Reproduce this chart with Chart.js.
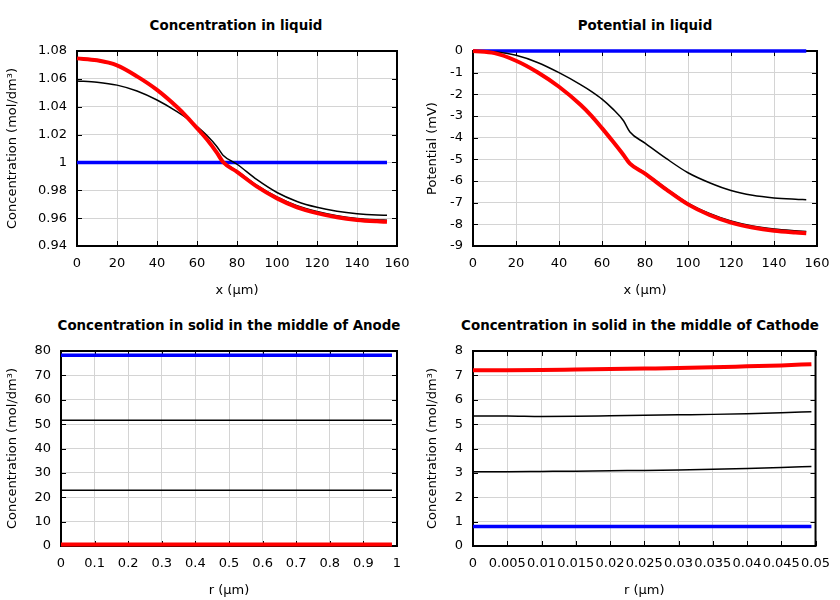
<!DOCTYPE html>
<html>
<head>
<meta charset="utf-8">
<script src="https://cdn.jsdelivr.net/npm/chart.js@4/dist/chart.umd.min.js"></script>
<style>
  body { margin: 0; background: #fff; }
  #wrap { position: relative; width: 840px; height: 600px; font-family: "DejaVu Sans", sans-serif; }
  canvas { position: absolute; }
  .ttl { position: absolute; font: bold 13.4px "DejaVu Sans", sans-serif; white-space: nowrap; transform: translateX(-50%); color: #000; }
</style>
</head>
<body>
<div id="wrap">
  <div class="ttl" style="left:236px; top:18px">Concentration in liquid</div>
  <div class="ttl" style="left:645px; top:18px">Potential in liquid</div>
  <div class="ttl" style="left:229px; top:318px">Concentration in solid in the middle of Anode</div>
  <div class="ttl" style="left:640px; top:318px">Concentration in solid in the middle of Cathode</div>
  <canvas id="c1" width="420" height="300" style="left:0;top:0"></canvas>
  <canvas id="c2" width="420" height="300" style="left:420px;top:0"></canvas>
  <canvas id="c3" width="420" height="300" style="left:0;top:300px"></canvas>
  <canvas id="c4" width="420" height="300" style="left:420px;top:300px"></canvas>
</div>
<script>
// positions along the cell (µm)
const xLiquid = [0, 10, 20, 30, 40, 50, 55, 60, 65, 70, 73, 80, 90, 100, 110, 120, 130, 140, 150, 155];

// liquid concentration (mol/dm3)
const concLiq0 = [1, 1, 1, 1, 1, 1, 1, 1, 1, 1, 1, 1, 1, 1, 1, 1, 1, 1, 1, 1];
const concLiq1 = [1.0585, 1.0576, 1.0555, 1.0513, 1.0448, 1.0365, 1.0316, 1.0258, 1.0193, 1.0113, 1.0052, 0.9987, 0.9876, 0.9784, 0.9720, 0.9678, 0.9650, 0.9632, 0.9622, 0.9620];
const concLiq2 = [1.0742, 1.0728, 1.0693, 1.0615, 1.0518, 1.0396, 1.0325, 1.0246, 1.0165, 1.0072, 1.0008, 0.9940, 0.9835, 0.9752, 0.9689, 0.9647, 0.9617, 0.9598, 0.9588, 0.9585];
const concLiq3 = [1.0747, 1.0733, 1.0697, 1.0618, 1.0521, 1.0398, 1.0326, 1.0246, 1.0164, 1.0068, 1.0003, 0.9932, 0.9826, 0.9742, 0.9678, 0.9636, 0.9606, 0.9587, 0.9577, 0.9574];

// liquid potential (mV)
const potLiq0 = [0, 0, 0, 0, 0, 0, 0, 0, 0, 0, 0, 0, 0, 0, 0, 0, 0, 0, 0, 0];
const potLiq1 = [0, -0.04, -0.20, -0.53, -1.00, -1.55, -1.86, -2.22, -2.67, -3.22, -3.74, -4.25, -4.97, -5.62, -6.08, -6.44, -6.66, -6.78, -6.84, -6.86];
const potLiq2 = [0, -0.09, -0.44, -0.97, -1.64, -2.46, -2.96, -3.54, -4.14, -4.77, -5.17, -5.62, -6.35, -7.02, -7.50, -7.85, -8.08, -8.22, -8.30, -8.33];
const potLiq3 = [0, -0.10, -0.45, -0.98, -1.65, -2.48, -2.98, -3.56, -4.17, -4.80, -5.20, -5.66, -6.40, -7.08, -7.57, -7.92, -8.15, -8.30, -8.38, -8.41];

// particle radius, anode (µm) and solid concentration
const rAnode = [0, 0.2, 0.4, 0.6, 0.8, 0.985];
const anode0 = [78.3, 78.3, 78.3, 78.3, 78.3, 78.3];
const anode1 = [51.6, 51.6, 51.6, 51.6, 51.6, 51.6];
const anode2 = [22.9, 22.9, 22.9, 22.9, 22.9, 22.9];
const anode3 = [0.6, 0.6, 0.6, 0.6, 0.6, 0.6];

// particle radius, cathode (µm) and solid concentration
const rCathode = [0, 0.005, 0.01, 0.015, 0.02, 0.025, 0.03, 0.035, 0.04, 0.045, 0.0494];
const cathode0 = [0.8, 0.8, 0.8, 0.8, 0.8, 0.8, 0.8, 0.8, 0.8, 0.8, 0.8];
const cathode1 = [3.05, 3.05, 3.06, 3.07, 3.09, 3.10, 3.12, 3.15, 3.18, 3.22, 3.26];
const cathode2 = [5.33, 5.33, 5.31, 5.32, 5.34, 5.36, 5.38, 5.40, 5.43, 5.47, 5.51];
const cathode3 = [7.21, 7.21, 7.22, 7.24, 7.26, 7.28, 7.30, 7.33, 7.37, 7.41, 7.46];

// tick values
const ticksLiqX = [0, 20, 40, 60, 80, 100, 120, 140, 160];
const ticksConcLiqY = [0.94, 0.96, 0.98, 1, 1.02, 1.04, 1.06, 1.08];
const ticksPotY = [-9, -8, -7, -6, -5, -4, -3, -2, -1, 0];
const ticksAnodeX = [0, 0.1, 0.2, 0.3, 0.4, 0.5, 0.6, 0.7, 0.8, 0.9, 1];
const ticksAnodeY = [0, 10, 20, 30, 40, 50, 60, 70, 80];
const ticksCathodeX = [0, 0.005, 0.01, 0.015, 0.02, 0.025, 0.03, 0.035, 0.04, 0.045, 0.05];
const ticksCathodeY = [0, 1, 2, 3, 4, 5, 6, 7, 8];

const FONT = { family: "DejaVu Sans", size: 13 };

// frame and inward tick marks on all four sides, drawn under the curves
const framePlugin = {
  id: 'frame',
  beforeDatasetsDraw(chart) {
    const { ctx, chartArea: a, scales } = chart;
    ctx.save();
    ctx.strokeStyle = '#000';
    ctx.lineWidth = 1;
    const len = 5;
    scales.x.ticks.forEach(t => {
      const px = Math.round(scales.x.getPixelForValue(t.value)) + 0.5;
      ctx.beginPath();
      ctx.moveTo(px, a.bottom); ctx.lineTo(px, a.bottom - len);
      ctx.moveTo(px, a.top); ctx.lineTo(px, a.top + len);
      ctx.stroke();
    });
    scales.y.ticks.forEach(t => {
      const py = Math.round(scales.y.getPixelForValue(t.value)) + 0.5;
      ctx.beginPath();
      ctx.moveTo(a.left, py); ctx.lineTo(a.left + len, py);
      ctx.moveTo(a.right, py); ctx.lineTo(a.right - len, py);
      ctx.stroke();
    });
    ctx.lineWidth = 2;
    ctx.strokeRect(a.left, a.top, a.right - a.left, a.bottom - a.top);
    ctx.restore();
  }
};

function series(xs, ys, color, width, order) {
  return {
    data: xs.map((x, i) => ({ x: x, y: ys[i] })),
    borderColor: color,
    borderWidth: width,
    pointRadius: 0,
    fill: false,
    clip: 4,
    cubicInterpolationMode: 'monotone',
    order: order
  };
}

function makeChart(id, xs, sets, cfg) {
  new Chart(document.getElementById(id), {
    type: 'line',
    data: {
      datasets: [
        series(xs, sets[0], '#0000ff', 3.5, 3),
        series(xs, sets[1], '#000000', 1.5, 2),
        series(xs, sets[2], '#000000', 1.5, 1),
        series(xs, sets[3], '#ff0000', 4, 0)
      ]
    },
    options: {
      responsive: false,
      animation: false,
      events: [],
      layout: { padding: { left: 0, right: 23, top: 51, bottom: 0 } },
      plugins: { legend: { display: false }, tooltip: { enabled: false } },
      scales: {
        x: {
          type: 'linear',
          min: cfg.xTicks[0],
          max: cfg.xTicks[cfg.xTicks.length - 1],
          afterBuildTicks: s => { s.ticks = cfg.xTicks.map(v => ({ value: v })); },
          afterFit: s => { s.height = 54; },
          grid: { color: '#d4d4d4', drawTicks: false },
          border: { display: false },
          ticks: {
            color: '#000', font: FONT, padding: 10, maxRotation: 0, autoSkip: false,
            callback: v => String(+v.toFixed(4))
          },
          title: { display: true, text: cfg.xTitle, color: '#000', font: FONT, padding: { top: 0, bottom: 2 } }
        },
        y: {
          type: 'linear',
          min: cfg.yTicks[0],
          max: cfg.yTicks[cfg.yTicks.length - 1],
          afterBuildTicks: s => { s.ticks = cfg.yTicks.map(v => ({ value: v })); },
          afterFit: s => { s.width = cfg.yWidth; },
          grid: { color: '#d4d4d4', drawTicks: false },
          border: { display: false },
          ticks: {
            color: '#000', font: FONT, padding: 10, autoSkip: false,
            callback: v => String(+v.toFixed(4))
          },
          title: { display: true, text: cfg.yTitle, color: '#000', font: FONT, padding: { top: 5, bottom: 0 } }
        }
      }
    },
    plugins: [framePlugin]
  });
}

makeChart('c1', xLiquid, [concLiq0, concLiq1, concLiq2, concLiq3],
  { xTicks: ticksLiqX, yTicks: ticksConcLiqY, yWidth: 77, xTitle: 'x (µm)', yTitle: 'Concentration (mol/dm³)' });
makeChart('c2', xLiquid, [potLiq0, potLiq1, potLiq2, potLiq3],
  { xTicks: ticksLiqX, yTicks: ticksPotY, yWidth: 53, xTitle: 'x (µm)', yTitle: 'Potential (mV)' });
makeChart('c3', rAnode, [anode0, anode1, anode2, anode3],
  { xTicks: ticksAnodeX, yTicks: ticksAnodeY, yWidth: 61, xTitle: 'r (µm)', yTitle: 'Concentration (mol/dm³)' });
makeChart('c4', rCathode, [cathode0, cathode1, cathode2, cathode3],
  { xTicks: ticksCathodeX, yTicks: ticksCathodeY, yWidth: 53, xTitle: 'r (µm)', yTitle: 'Concentration (mol/dm³)' });
</script>
</body>
</html>
